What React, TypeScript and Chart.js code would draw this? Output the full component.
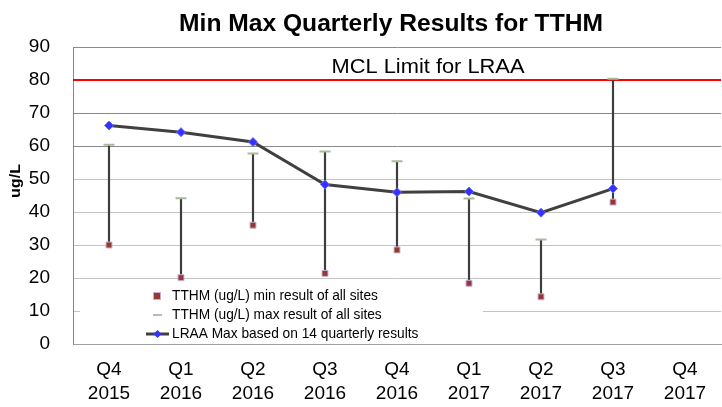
import { useEffect, useRef } from 'react';
import { Chart, registerables } from 'chart.js';

Chart.register(...registerables);

const categories: string[][] = [
  ['Q4', '2015'], ['Q1', '2016'], ['Q2', '2016'], ['Q3', '2016'], ['Q4', '2016'],
  ['Q1', '2017'], ['Q2', '2017'], ['Q3', '2017'], ['Q4', '2017'],
];
const minValues: (number | null)[] = [30.0, 20.1, 36.0, 21.4, 28.5, 18.4, 14.3, 43.0, null];
const maxValues: (number | null)[] = [60.4, 44.2, 57.7, 58.3, 55.4, 44.1, 31.7, 80.4, null];
const lraaValues: (number | null)[] = [66.2, 64.2, 61.2, 48.3, 46.0, 46.2, 39.8, 47.1, null];
const mclLimit = 80;
const yMin = 0;
const yMax = 90;
const yStep = 10;

const titleText = 'Min Max Quarterly Results for TTHM';
const mclText = 'MCL Limit for LRAA';
const yTitle = 'ug/L';
const legendLabels = [
  'TTHM (ug/L) min result of all sites',
  'TTHM (ug/L) max result of all sites',
  'LRAA Max based on 14 quarterly results',
];

const FONT = '"Liberation Sans", Arial, sans-serif';

function drawScaledText(ctx: any, text: string, x: number, y: number, font: string, scaleX: number, align: string) {
  ctx.save();
  ctx.font = font;
  ctx.textAlign = align;
  ctx.textBaseline = 'middle';
  ctx.translate(x, y);
  ctx.scale(scaleX, 1);
  ctx.fillText(text, 0, 0);
  ctx.restore();
}

const decorPlugin = {
  id: 'decor',
  beforeDatasetsDraw(chart: any) {
    const { ctx, chartArea, scales } = chart;
    ctx.save();
    // MCL limit line
    const y80 = scales.y.getPixelForValue(mclLimit);
    ctx.strokeStyle = '#ff0000';
    ctx.lineWidth = 2;
    ctx.beginPath();
    ctx.moveTo(chartArea.left, y80);
    ctx.lineTo(chartArea.right, y80);
    ctx.stroke();
    // legend box
    ctx.fillStyle = '#ffffff';
    ctx.fillRect(80, 287, 403, 56);
    ctx.fillStyle = '#000000';
    const rows = [296, 315, 334];
    legendLabels.forEach((t, i) => drawScaledText(ctx, t, 172, rows[i], `15px ${FONT}`, 0.915, 'left'));
    // marker 1: min square
    ctx.fillStyle = '#953735';
    ctx.fillRect(154, rows[0] - 3, 6, 6);
    ctx.strokeStyle = '#c8b0d0';
    ctx.lineWidth = 1;
    ctx.strokeRect(153.5, rows[0] - 3.5, 7, 7);
    // marker 2: max dash
    ctx.strokeStyle = '#b8bcb4';
    ctx.lineWidth = 2;
    ctx.beginPath();
    ctx.moveTo(153, rows[1]);
    ctx.lineTo(162, rows[1]);
    ctx.stroke();
    // marker 3: line with diamond
    ctx.strokeStyle = '#404040';
    ctx.lineWidth = 3;
    ctx.beginPath();
    ctx.moveTo(146, rows[2]);
    ctx.lineTo(169, rows[2]);
    ctx.stroke();
    ctx.fillStyle = '#3333ff';
    ctx.beginPath();
    ctx.moveTo(157.5, rows[2] - 4);
    ctx.lineTo(161.5, rows[2]);
    ctx.lineTo(157.5, rows[2] + 4);
    ctx.lineTo(153.5, rows[2]);
    ctx.closePath();
    ctx.fill();
    ctx.restore();
  },
  afterDraw(chart: any) {
    const { ctx, chartArea } = chart;
    ctx.save();
    ctx.fillStyle = '#000000';
    const cx = (chartArea.left + chartArea.right) / 2;
    drawScaledText(ctx, titleText, cx - 6, 25, `bold 23px ${FONT}`, 1.07, 'center');
    drawScaledText(ctx, mclText, 428, 67, `21px ${FONT}`, 1.04, 'center');
    ctx.translate(16, 181);
    ctx.rotate(-Math.PI / 2);
    drawScaledText(ctx, yTitle, 0, 0, `bold 14px ${FONT}`, 1.15, 'center');
    ctx.restore();
  },
};

export default function App() {
  const ref = useRef<HTMLCanvasElement>(null);
  useEffect(() => {
    if (!ref.current) return;
    const chart = new Chart(ref.current, {
      type: 'bar',
      data: {
        labels: categories,
        datasets: [
          {
            type: 'line',
            label: legendLabels[2],
            data: lraaValues,
            borderColor: '#404040',
            borderWidth: 3,
            pointStyle: 'rectRot',
            pointRadius: 4.5,
            pointBackgroundColor: '#3333ff',
            pointBorderColor: '#6a6aff',
            pointBorderWidth: 1,
            order: 0,
          } as any,
          {
            type: 'line',
            label: legendLabels[0],
            data: minValues,
            showLine: false,
            pointStyle: 'rect',
            pointRadius: 4.2,
            pointBackgroundColor: '#953735',
            pointBorderColor: '#c8b0d0',
            pointBorderWidth: 1,
            order: 1,
          } as any,
          {
            type: 'line',
            label: legendLabels[1],
            data: maxValues,
            showLine: false,
            pointStyle: 'line',
            pointRadius: 5.5,
            pointBorderColor: '#a8bc9c',
            pointBorderWidth: 2,
            order: 2,
          } as any,
          {
            type: 'bar',
            label: 'range',
            data: minValues.map((m, i) => (m == null || maxValues[i] == null ? null : [m, maxValues[i]])) as any,
            backgroundColor: '#3c3c3c',
            borderWidth: 0,
            barThickness: 1.5,
            order: 3,
          } as any,
        ],
      },
      options: {
        responsive: false,
        animation: false,
        events: [],
        devicePixelRatio: 1,
        layout: { autoPadding: false, padding: { top: 47, right: 1, left: 0, bottom: 0 } },
        plugins: {
          legend: { display: false },
          title: { display: false },
          tooltip: { enabled: false },
        },
        scales: {
          x: {
            grid: { display: false, drawTicks: false },
            border: { display: true, color: '#a0a0a0', width: 1 },
            ticks: {
              color: '#000000',
              font: { family: FONT, size: 19, lineHeight: 1.25 },
              padding: 14,
              maxRotation: 0,
              autoSkip: false,
            },
            afterFit: (s: any) => { s.height = 63; s.paddingLeft = 0; s.paddingRight = 0; },
          },
          y: {
            min: yMin,
            max: yMax,
            grid: {
              drawTicks: false,
              color: (c: any) => (c.tick && c.tick.value >= 60 ? '#8a8a8a' : '#c4c4c4'),
            },
            border: { display: true, color: '#868686', width: 1 },
            ticks: {
              stepSize: yStep,
              color: '#000000',
              font: { family: FONT, size: 19 },
              padding: 23,
            },
            afterFit: (s: any) => { s.width = 73; s.paddingTop = 0; s.paddingBottom = 0; },
          },
        },
      },
      plugins: [decorPlugin],
    });
    return () => chart.destroy();
  }, []);
  return (
    <div style={{ position: 'absolute', left: 0, top: 0, width: 722, height: 407, background: '#fff' }}>
      <canvas ref={ref} width={722} height={407} style={{ display: 'block' }} />
    </div>
  );
}
